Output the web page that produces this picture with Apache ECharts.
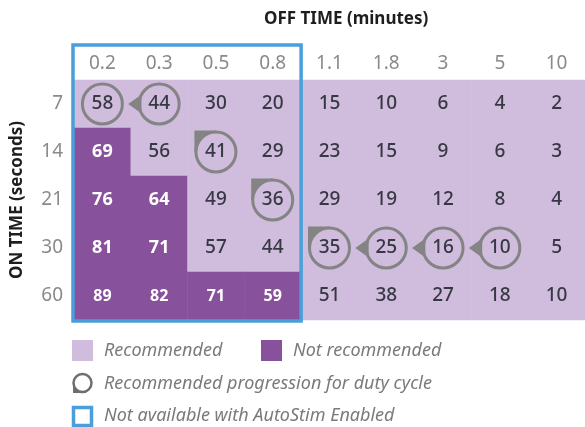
<!DOCTYPE html>
<html lang="en">
<head>
    <meta charset="UTF-8">
    <script type="text/javascript" src="https://cdn.jsdelivr.net/npm/echarts@6/dist/echarts.min.js"></script>
    <title>Duty cycle table</title>
    <style>
        html, body { margin: 0; padding: 0; background: #fff; }
        #dutyChart { width: 585px; height: 427px; }
    </style>
</head>
<body>

<div id="dutyChart"></div>

<script>
    // OFF TIME (minutes) columns, ON TIME (seconds) rows
    var offTimes = ['0.2', '0.3', '0.5', '0.8', '1.1', '1.8', '3', '5', '10'];
    var onTimes = ['7', '14', '21', '30', '60'];

    // duty cycle % per row
    var row7 = [58, 44, 30, 20, 15, 10, 6, 4, 2];
    var row14 = [69, 56, 41, 29, 23, 15, 9, 6, 3];
    var row21 = [76, 64, 49, 36, 29, 19, 12, 8, 4];
    var row30 = [81, 71, 57, 44, 35, 25, 16, 10, 5];
    var row60 = [89, 82, 71, 59, 51, 38, 27, 18, 10];

    // how many leading columns of each row are "not recommended"
    var notRecCount = [0, 1, 2, 2, 4];

    // recommended progression: [col, row, pointer]
    var progCols = [0, 1, 2, 3, 4, 5, 6, 7];
    var progRows = [0, 0, 1, 2, 3, 3, 3, 3];
    var progPointer = ['none', 'left', 'corner', 'corner', 'corner', 'left', 'left', 'left'];

    // columns not available with AutoStim
    var autoStimCols = 4;

    var legendTexts = ['Recommended', 'Not recommended', 'Recommended progression for duty cycle', 'Not available with AutoStim Enabled'];

    var lightPurple = '#d0bcdd';
    var darkPurple = '#88519b';
    var ringGray = '#848484';
    var boxBlue = '#4a9fdb';
    var font = 'Noto Sans';

    var rows = [row7, row14, row21, row30, row60];
    var cells = [];
    for (var r = 0; r < rows.length; r++) {
        for (var c = 0; c < offTimes.length; c++) {
            var bad = c < notRecCount[r] ? 1 : 0;
            cells.push({
                value: [c, r, rows[r][c], bad],
                label: bad ? {color: '#ffffff', fontWeight: 'bold', fontSize: (r === rows.length - 1 ? 16 : 18)}
                           : {color: '#383845', fontWeight: 500, fontSize: 19}
            });
        }
    }

    var progData = [];
    for (var i = 0; i < progCols.length; i++) {
        progData.push([progCols[i], progRows[i]]);
    }

    function ringItem(params, api) {
        var p = api.coord([api.value(0), api.value(1)]);
        var cx = p[0], cy = p[1], rad = 20;
        var kind = progPointer[params.dataIndex];
        var kids = [];
        if (kind === 'left') {
            var t = 28 * Math.PI / 180;
            kids.push({
                type: 'polygon',
                shape: {points: [[cx - rad * Math.cos(t), cy - rad * Math.sin(t)], [cx - rad - 11, cy], [cx - rad * Math.cos(t), cy + rad * Math.sin(t)]]},
                style: {fill: ringGray}
            });
        } else if (kind === 'corner') {
            var R = rad + 1.5;
            var pts = [[cx - R, cy], [cx - R, cy - R], [cx, cy - R]];
            for (var k = 0; k <= 12; k++) {
                var a = (k / 12) * Math.PI / 2;
                pts.push([cx - rad * Math.sin(a), cy - rad * Math.cos(a)]);
            }
            kids.push({type: 'polygon', shape: {points: pts}, style: {fill: ringGray}});
        }
        kids.push({
            type: 'circle',
            shape: {cx: cx, cy: cy, r: rad},
            style: {fill: 'none', stroke: ringGray, lineWidth: 3}
        });
        return {type: 'group', children: kids};
    }

    var chart = echarts.init(document.getElementById('dutyChart'));

    var option = {
        animation: false,
        backgroundColor: '#ffffff',
        title: {
            text: 'OFF TIME (minutes)',
            left: 259,
            top: 6,
            textStyle: {fontFamily: font, fontSize: 17, fontWeight: 'bold', color: '#1e1e1e'}
        },
        grid: {left: 74, right: 0, top: 80, bottom: 107, containLabel: false, outerBoundsMode: 'none'},
        xAxis: {
            type: 'category',
            position: 'top',
            data: offTimes,
            axisLine: {show: false},
            axisTick: {show: false},
            splitLine: {show: false},
            axisLabel: {margin: 7, fontFamily: font, fontSize: 19, color: '#8a8a8a'}
        },
        yAxis: {
            type: 'category',
            inverse: true,
            data: onTimes,
            axisLine: {show: false},
            axisTick: {show: false},
            splitLine: {show: false},
            axisLabel: {margin: 11, fontFamily: font, fontSize: 19, color: '#8a8a8a'},
            name: 'ON TIME (seconds)',
            nameLocation: 'middle',
            nameRotate: 90,
            nameGap: 48,
            nameTextStyle: {fontFamily: font, fontSize: 17, fontWeight: 'bold', color: '#1e1e1e'}
        },
        visualMap: {
            type: 'piecewise',
            show: false,
            dimension: 3,
            seriesIndex: 0,
            pieces: [{value: 0, color: lightPurple}, {value: 1, color: darkPurple}]
        },
        series: [
            {
                type: 'heatmap',
                data: cells,
                label: {show: true, fontFamily: font},
                emphasis: {disabled: true}
            },
            {
                type: 'custom',
                renderItem: ringItem,
                data: progData,
                z: 5,
                silent: true
            }
        ]
    };
    chart.setOption(option);

    // blue box around the first columns and legend
    var leftEdge = chart.convertToPixel({xAxisIndex: 0}, 0);
    var nextEdge = chart.convertToPixel({xAxisIndex: 0}, 1);
    var cellW = nextEdge - leftEdge;
    var boxRight = chart.convertToPixel({xAxisIndex: 0}, autoStimCols - 1) + cellW / 2;
    var lastRow = chart.convertToPixel({yAxisIndex: 0}, onTimes.length - 1);
    var cellH = lastRow - chart.convertToPixel({yAxisIndex: 0}, onTimes.length - 2);
    var boxBottom = lastRow + cellH / 2 + 1;
    var boxLeft = leftEdge - cellW / 2 - 1;
    var boxTop = 45;

    var legendStyle = {fontFamily: font, fontSize: 18, fontStyle: 'italic', fill: '#7a7a7a'};

    chart.setOption({
        graphic: [
            {
                type: 'rect',
                z: 100,
                shape: {x: boxLeft, y: boxTop, width: boxRight - boxLeft, height: boxBottom - boxTop},
                style: {fill: 'none', stroke: boxBlue, lineWidth: 3.5}
            },
            {type: 'rect', shape: {x: 72, y: 340, width: 21, height: 21}, style: {fill: lightPurple}},
            {type: 'text', x: 104, y: 351, style: Object.assign({text: legendTexts[0], verticalAlign: 'middle'}, legendStyle)},
            {type: 'rect', shape: {x: 261, y: 340, width: 21, height: 21}, style: {fill: darkPurple}},
            {type: 'text', x: 293, y: 351, style: Object.assign({text: legendTexts[1], verticalAlign: 'middle'}, legendStyle)},
            {
                type: 'polygon',
                shape: {points: [[73, 383], [73, 393], [83, 393]]},
                style: {fill: '#6e6e6e'}
            },
            {
                type: 'circle',
                shape: {cx: 82.5, cy: 383, r: 9},
                style: {fill: '#ffffff', stroke: '#6e6e6e', lineWidth: 2.5}
            },
            {type: 'text', x: 104, y: 384, style: Object.assign({text: legendTexts[2], verticalAlign: 'middle'}, legendStyle)},
            {
                type: 'rect',
                shape: {x: 73.5, y: 407.5, width: 18, height: 18},
                style: {fill: '#ffffff', stroke: boxBlue, lineWidth: 3.5}
            },
            {type: 'text', x: 104, y: 416, style: Object.assign({text: legendTexts[3], verticalAlign: 'middle'}, legendStyle)}
        ]
    });
</script>

</body>
</html>
